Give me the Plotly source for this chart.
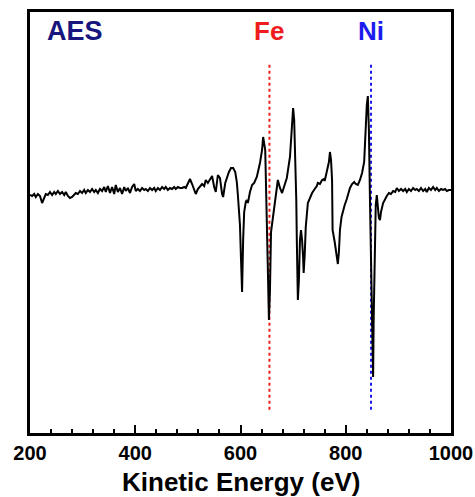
import plotly.graph_objects as go

# Kinetic energy (eV) and dN/dE intensity (arbitrary units)
energy_ev = [
    200, 204, 208, 211, 215, 219, 223, 227, 230, 234, 238, 242, 246, 249, 253, 257, 261, 265, 268, 272,
    276, 280, 284, 287, 291, 295, 299, 303, 306, 310, 314, 318, 322, 325, 329, 333, 337, 341, 344, 348,
    352, 356, 360, 363, 367, 371, 375, 379, 382, 386, 390, 394, 398, 401, 405, 409, 413, 417, 420, 424,
    428, 432, 436, 439, 443, 447, 451, 455, 458, 462, 466, 470, 474, 477, 481, 485, 489, 493, 496, 500,
    504, 508, 512, 515, 519, 523, 527, 531, 534, 538, 542, 546, 550, 553, 557, 561, 565, 567, 571, 574,
    578, 582, 586, 590, 593, 595, 599, 601, 603, 605, 607, 610, 612, 614, 618, 622, 626, 631, 637, 641,
    643, 647, 649, 650, 652, 654, 656, 658, 662, 666, 669, 671, 675, 679, 685, 688, 694, 698, 700, 702,
    704, 706, 707, 709, 711, 713, 715, 717, 719, 720, 722, 724, 728, 732, 736, 741, 745, 747, 751, 755,
    759, 760, 764, 768, 770, 772, 774, 775, 779, 781, 783, 785, 787, 789, 792, 794, 798, 802, 806, 808,
    812, 816, 819, 823, 827, 831, 835, 836, 838, 840, 842, 844, 846, 848, 850, 852, 853, 855, 857, 859,
    861, 863, 865, 867, 871, 875, 878, 882, 886, 890, 894, 897, 901, 905, 909, 913, 916, 920, 924, 928,
    932, 935, 939, 943, 947, 951, 954, 958, 962, 966, 970, 973, 977, 981, 985, 989, 992, 996, 1000,
]
intensity = [
    -3, -4, -2, -5, -2, -4, -11, -6, -2, -3, 0, -3, 0, -2, 1, -2, 0, -3, 0, -4,
    -6, -5, -3, -1, -2, 1, -1, 2, -1, 2, 0, 3, 0, 2, -1, 3, 1, 5, 0, 6,
    -1, 5, -2, 7, 0, 4, -2, 5, 1, 4, -1, 5, 8, 1, 3, 1, 4, 2, 3, 1,
    4, 2, 4, 1, 4, 2, 5, 3, 5, 2, 4, 3, 5, 3, 5, 4, 4, 5, 4, 8,
    13, 8, 2, -2, 3, 6, 8, 6, 12, 9, 13, 16, 5, 0, 17, 14, -2, -5, 9, 14,
    20, 24, 24, 20, 10, -3, -33, -68, -100, -48, -20, -10, -8, -11, 0, 7, 9, 15, 29, 42,
    55, 42, 2, -28, -78, -128, -98, -40, -21, -8, 4, 12, 4, -1, 9, 14, 35, 67, 84, 72,
    37, -8, -48, -108, -88, -48, -38, -48, -66, -81, -63, -35, -11, -5, -1, 3, 6, 9, 8, 12,
    13, 11, 20, 30, 40, 32, 12, -38, -50, -56, -66, -72, -60, -38, -25, -20, -13, -7, 0, 4,
    8, 10, 8, 7, 12, 19, 30, 42, 62, 87, 96, 62, -8, -71, -148, -185, -128, -48, -13, -3,
    -13, -26, -28, -20, -11, -6, -4, -1, -2, 1, 0, 4, 1, 3, 1, 3, 0, 3, 1, 4,
    2, 3, 1, 4, 1, 3, 0, 4, 2, 5, 2, 4, 1, 3, 2, 3, 1, 2, 2,
]

x_tick_vals = [200, 400, 600, 800, 1000]
x_tick_text = ["200", "400", "600", "800", "1000"]
element_names = ["Fe", "Ni"]
element_energy = [655, 848]
element_colors = ["#ee1c1c", "#1c1cee"]

FONT = "Arial, 'Liberation Sans', sans-serif"

fig = go.Figure()
fig.add_trace(go.Scatter(
    x=energy_ev, y=intensity, mode="lines",
    line=dict(color="black", width=2), hoverinfo="skip", showlegend=False,
))

for name, ev, col in zip(element_names, element_energy, element_colors):
    fig.add_shape(type="line", xref="x", yref="paper", x0=ev, x1=ev, y0=0.055, y1=0.88,
                  line=dict(color=col, width=2, dash="dot"), layer="below")
    fig.add_annotation(x=ev, xref="x", y=0.955, yref="paper", text="<b>%s</b>" % name,
                       showarrow=False, font=dict(family=FONT, size=26, color=col),
                       xanchor="center", yanchor="middle")

fig.add_annotation(x=0.107, xref="paper", y=0.955, yref="paper", text="<b>AES</b>",
                   showarrow=False, font=dict(family=FONT, size=27, color="#16167e"),
                   xanchor="center", yanchor="middle")

fig.add_annotation(x=0.5, xref="paper", y=-0.077, yref="paper", text="<b>Kinetic Energy (eV)</b>",
                   showarrow=False, font=dict(family=FONT, size=26, color="black"),
                   xanchor="center", yanchor="top")

fig.update_layout(
    width=475, height=497, autosize=False,
    margin=dict(l=30, r=24, t=12, b=64),
    paper_bgcolor="white", plot_bgcolor="white",
    showlegend=False,
    xaxis=dict(
        range=[200, 1000], tickvals=x_tick_vals, ticktext=x_tick_text, automargin=False,
        ticks="inside", ticklen=8, tickwidth=2, tickcolor="black",
        minor=dict(dtick=40, tick0=200, ticks="inside", ticklen=4, tickwidth=2, tickcolor="black"),
        showline=True, linecolor="black", linewidth=2.5, mirror=True,
        showgrid=False, zeroline=False,
        tickfont=dict(family=FONT, size=20, color="black", weight="bold"),
    ),
    yaxis=dict(
        range=[-241, 180], showticklabels=False, ticks="", automargin=False,
        showline=True, linecolor="black", linewidth=2.5, mirror=True,
        showgrid=False, zeroline=False,
    ),
)

# remove the browser's default page margin / scrollbars so the figure fills the window
fig.write_html(
    "out.html",
    config={"displayModeBar": False, "responsive": False},
    post_script="document.body.style.margin='0';document.body.style.overflow='hidden';",
)
